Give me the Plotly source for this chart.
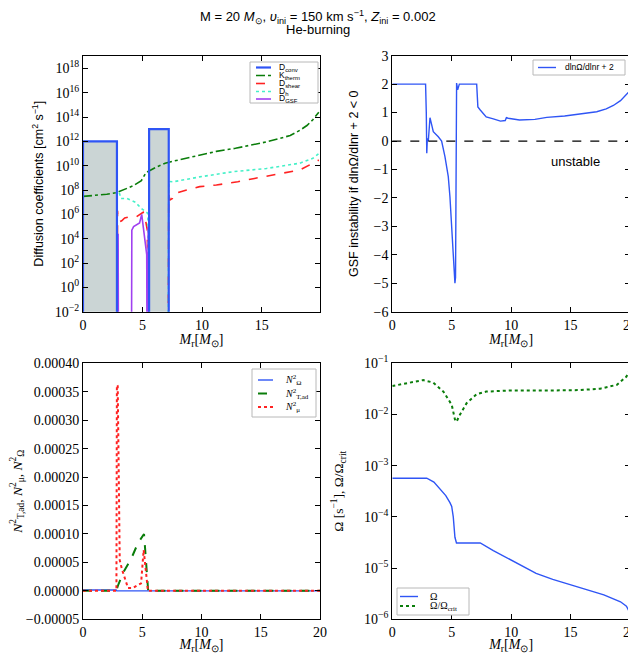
import plotly.graph_objects as go

# ---- top left: diffusion coefficients (values below 1e-2 are off the axis) ----
floor = 1e-6
conv_m = [0, 0, 2.85, 2.85, 5.55, 5.55, 7.2, 7.2]
conv_d = [floor, 1e12, 1e12, floor, floor, 1e13, 1e13, floor]

kth_m = [0, 1, 2, 2.8, 3.3, 4.2, 4.9, 5.3, 6.2, 6.9, 7.7, 8.6, 10, 11.2, 12.8, 15.4, 17.4, 18.2, 18.8, 19.3, 19.8]
kth_d = [3e7, 3.5e7, 4.5e7, 6e7, 1e8, 2.2e8, 6e8, 2.8e9, 8e9, 1.6e10, 2.5e10, 4e10, 8e10, 1.5e11,
         2.7e11, 9e11, 3e12, 8e12, 2e13, 6e13, 2.5e14]

shear_m = [2.88, 2.9, 2.95, 3.1, 3.25, 3.5, 3.8, 4.45, 4.9, 5.05, 5.2, 5.3, 5.4, 5.45,
           7.15, 7.2, 7.3, 7.5, 7.6, 8.7, 9.8, 11.2, 13.0, 14.4, 16.0, 17.1, 18.2, 19.3, 19.8]
shear_d = [floor, 2e6, 3e5, 2.5e5, 3e5, 5e5, 6e5, 6e5, 1.2e6, 1.5e6, 6e5, 1e5, 5e4, floor,
           floor, 4e7, 1.5e7, 2e7, 4.7e7, 1e8, 1.9e8, 2.6e8, 4.8e8, 9e8, 1.7e9, 2.6e9, 4.4e9, 1.6e10, 2.9e10]

dh_m = [2.85, 2.87, 3.0, 3.2, 3.7, 4.4, 4.9, 5.3, 5.45, 5.5,
        7.15, 7.2, 7.6, 9.8, 12.6, 15.4, 18.2, 19.3, 19.8]
dh_d = [floor, 1e8, 8e7, 2e7, 2e7, 1e7, 3e6, 1.5e6, 1.2e6, floor,
        floor, 5e8, 4.8e8, 1.2e9, 3.2e9, 5.9e9, 1.6e10, 4e10, 1e11]

gsf_m = [2.93, 2.95, 2.98, 4.07, 4.1, 4.25, 4.5, 4.75, 4.93, 5.0, 5.2, 5.35, 5.38, 5.45, 5.47, 5.5]
gsf_d = [floor, 2.5e4, floor, floor, 5e4, 1e5, 1.5e5, 2e5, 1e6, 2.5e5, 1.5e4, 5e2, floor, floor, 1e5, floor]

dc_exp = [-2, 0, 2, 4, 6, 8, 10, 12, 14, 16, 18]

# ---- top right: dlnOmega/dlnr + 2 ----
gsf_x = [0, 2.8, 2.86, 2.9, 2.95, 3.03, 3.17, 3.31, 3.45, 3.87, 4.15, 4.43, 4.71, 4.85, 4.99,
         5.08, 5.2, 5.27, 5.32, 5.41, 5.5, 5.64, 7.1, 7.2, 7.4, 7.9, 8.5, 9.1, 9.5, 9.6, 9.75,
         10.7, 12, 13, 14.5, 15.8, 17.2, 18.0, 18.6, 19.2, 19.7, 19.95]
gsf_y = [2, 2, 1.0, -0.43, 0.1, 0.0, 0.82, 0.56, 0.33, 0.15, 0.0, -0.55, -1.25, -1.96, -2.9,
         -3.71, -4.53, -5.0, -4.8, 2.04, 1.8, 2.0, 2.0, 1.2, 1.09, 0.85, 0.78, 0.70, 0.72, 0.82, 0.80,
         0.74, 0.76, 0.83, 0.88, 0.95, 1.03, 1.13, 1.25, 1.42, 1.62, 1.75]

# ---- bottom left: Brunt-Vaisala frequencies ----
nom_m = [0, 2.8, 2.85, 20]
nom_v = [1.5e-6, 1.5e-6, 0, 0]
ntad_m = [0, 2.8, 3.0, 3.39, 4.08, 4.64, 5.15, 5.2, 5.35, 5.5, 20]
ntad_v = [0, 0, 1.2e-5, 3.2e-5, 5.7e-5, 8.4e-5, 1.0e-4, 8.7e-5, 3.7e-5, 0, 0]
nmu_m = [0, 2.82, 2.86, 2.93, 3.1, 3.3, 3.8, 4.2, 4.6, 4.9, 5.12, 5.22, 5.35, 5.48, 20]
nmu_v = [0, 0, 3.62e-4, 3.6e-4, 5.4e-5, 3.7e-5, 5e-6, 5e-6, 1e-5, 1.3e-5, 7.2e-5, 4.9e-5, 2.5e-5, 0, 0]

# ---- bottom right: Omega and Omega/Omega_crit ----
om_m = [0, 2.9, 3.5, 4.0, 4.5, 4.85, 5.0, 5.13, 5.2, 5.27, 5.4, 7.4, 8.5, 10, 12.1, 13.5, 15,
        16.4, 17.8, 19.2, 19.7, 19.95]
om_v = [5.7e-4, 5.7e-4, 4.8e-4, 3.5e-4, 2.6e-4, 1.9e-4, 1.6e-4, 1e-4, 6e-5, 4e-5, 3.1e-5, 3.1e-5,
        2.2e-5, 1.44e-5, 7.9e-6, 6e-6, 4.7e-6, 3.7e-6, 3e-6, 2.2e-6, 1.8e-6, 1.4e-6]
rat_m = [0, 1.3, 2.6, 3.45, 4.3, 5.0, 5.27, 5.4, 5.7, 6.25, 7.1, 7.9, 10, 13.5, 15.8, 17.5, 18.9, 19.7, 20]
rat_v = [0.036, 0.041, 0.047, 0.042, 0.028, 0.0155, 0.008, 0.0072, 0.010, 0.0166, 0.025, 0.028,
         0.0295, 0.0295, 0.030, 0.032, 0.038, 0.055, 0.074]
om_exp = [-6, -5, -4, -3, -2, -1]

BLUE = "#2f55f5"
GREEN = "#0a7d0a"
RED = "#ff2222"
CYAN = "#45f0c8"
PURPLE = "#a040f0"

# the page body has an 8px margin, so the figure is a bit smaller than the window
OFF = 8
W, H = 636 - OFF, 654 - OFF


def px(x):
    return (x - OFF) / W


def py(y):
    return 1 - (y - OFF) / H


def line(x, y, name, color, width, dash, xa, ya):
    return go.Scatter(x=x, y=y, name=name, mode="lines", showlegend=False,
                      line=dict(color=color, width=width, dash=dash), xaxis=xa, yaxis=ya)


fig = go.Figure()

# top left
fig.add_trace(go.Scatter(x=conv_m, y=conv_d, fill="toself", fillcolor="#cbd5d5", mode="none",
                         showlegend=False, hoverinfo="skip", xaxis="x", yaxis="y"))
t_kth = line(kth_m, kth_d, "K<sub>therm</sub>", GREEN, 1.6, "dashdot", "x", "y")
t_shear = line(shear_m, shear_d, "D<sub>shear</sub>", RED, 1.6, "dash", "x", "y")
t_dh = line(dh_m, dh_d, "D<sub>h</sub>", CYAN, 1.6, "dot", "x", "y")
t_gsf = line(gsf_m, gsf_d, "D<sub>GSF</sub>", PURPLE, 1.6, "solid", "x", "y")
t_conv = line(conv_m, conv_d, "D<sub>conv</sub>", BLUE, 2.2, "solid", "x", "y")

# top right
t_grad = line(gsf_x, gsf_y, "dlnΩ/dlnr + 2", BLUE, 1.4, "solid", "x2", "y2")

# bottom left
t_nom = line(nom_m, nom_v, "<i>N</i><sup>2</sup><sub>Ω</sub>", BLUE, 1.4, "solid", "x3", "y3")
t_ntad = line(ntad_m, ntad_v, "<i>N</i><sup>2</sup><sub>T,ad</sub>", GREEN, 2, "dash", "x3", "y3")
t_nmu = line(nmu_m, nmu_v, "<i>N</i><sup>2</sup><sub>μ</sub>", RED, 2, "dot", "x3", "y3")

# bottom right
t_om = line(om_m, om_v, "Ω", BLUE, 1.4, "solid", "x4", "y4")
t_rat = line(rat_m, rat_v, "Ω/Ω<sub>crit</sub>", GREEN, 2, "dot", "x4", "y4")

for t in [t_kth, t_shear, t_dh, t_gsf, t_conv, t_grad, t_nom, t_ntad, t_nmu, t_om, t_rat]:
    fig.add_trace(t)

fig.add_hline(y=0, line=dict(color="black", width=1.2, dash="dash"), xref="x2", yref="y2")
fig.add_annotation(x=15.4, y=-0.72, xref="x2", yref="y2", text="unstable", showarrow=False,
                   font=dict(family="Liberation Sans", size=13, color="black"))


def add_legend(traces, box, sample, text_x, rows, font):
    # compact matplotlib-like legend box drawn in page pixels
    fig.add_shape(type="rect", xref="paper", yref="paper", x0=px(box[0]), x1=px(box[2]),
                  y0=py(box[3]), y1=py(box[1]), fillcolor="white", line=dict(color="#b8b8b8", width=1))
    for t, yy in zip(traces, rows):
        fig.add_shape(type="line", xref="paper", yref="paper", x0=px(sample[0]), x1=px(sample[1]),
                      y0=py(yy), y1=py(yy), line=dict(color=t.line.color, width=t.line.width, dash=t.line.dash))
        fig.add_annotation(x=px(text_x), y=py(yy), xref="paper", yref="paper", text=t.name,
                           xanchor="left", yanchor="middle", showarrow=False, font=font)


leg_sans = dict(family="Liberation Sans", size=8.5, color="black")
leg_serif = dict(family="Liberation Serif", size=10, color="black")
add_legend([t_conv, t_kth, t_shear, t_dh, t_gsf], (250, 62, 318, 103), (256, 271), 277,
           [67.5, 75.5, 83.5, 91.5, 99], leg_sans)
add_legend([t_grad], (533, 60, 625, 75), (538, 556), 563, [67.5], leg_sans)
add_legend([t_nom, t_ntad, t_nmu], (252, 369, 316, 417), (258, 273), 283, [380, 393.5, 407], leg_serif)
add_legend([t_om, t_rat], (397, 588, 469, 615), (400, 418), 428, [596.5, 606], leg_serif)

title_font = dict(family="Liberation Sans", size=13, color="black")
fig.add_annotation(x=px(318), y=py(16.5), xref="paper", yref="paper", showarrow=False, font=title_font,
                   yanchor="middle",
                   text="M = 20 <i>M</i><sub>⊙</sub>, <i>υ</i><sub>ini</sub> = 150 km s<sup>−1</sup>, "
                        "<i>Z</i><sub>ini</sub> = 0.002")
fig.add_annotation(x=px(318), y=py(29), xref="paper", yref="paper", showarrow=False, font=title_font,
                   yanchor="middle", text="He-burning")

tick_font = dict(family="Liberation Serif", size=14, color="black")
mr_title = dict(text="<i>M</i><sub>r</sub>[<i>M</i><sub>⊙</sub>]",
                font=dict(family="Liberation Serif", size=14, color="black"), standoff=0)
axis_common = dict(showline=True, linecolor="black", linewidth=1, mirror="ticks", ticks="inside",
                   ticklen=5, tickcolor="black", showgrid=False, zeroline=False, tickfont=tick_font,
                   automargin=False, ticklabeloverflow="allow")

xl = [px(83), px(320)]
xr = [px(392.3), px(630)]
yt = [py(311.7), py(55.7)]
yb = [py(619.3), py(363.3)]

sans_title = dict(family="Liberation Sans", size=12.5, color="black")
serif_title = dict(family="Liberation Serif", size=13.5, color="black")

fig.update_layout(
    template="none",
    width=W, height=H,
    margin=dict(l=0, r=0, t=0, b=0, autoexpand=False),
    paper_bgcolor="white", plot_bgcolor="white",
    showlegend=False,
    xaxis=dict(domain=xl, anchor="y", range=[0, 19.9], dtick=5, title=mr_title, **axis_common),
    yaxis=dict(domain=yt, anchor="x", type="log", range=[-2, 19.04],
               tickvals=[10.0 ** e for e in dc_exp],
               ticktext=["10<sup>%s</sup>" % str(e).replace("-", "−") for e in dc_exp],
               title=dict(text="Diffusion coefficients [cm<sup>2</sup> s<sup>−1</sup>]", font=sans_title,
                          standoff=8), **axis_common),
    xaxis2=dict(domain=xr, anchor="y2", range=[0, 20], dtick=5, title=mr_title, **axis_common),
    yaxis2=dict(domain=yt, anchor="x2", range=[-6, 3], dtick=1,
                title=dict(text="GSF instability if dlnΩ/dlnr + 2 < 0", font=sans_title, standoff=12),
                **axis_common),
    xaxis3=dict(domain=xl, anchor="y3", range=[0, 20], dtick=5, title=mr_title, **axis_common),
    yaxis3=dict(domain=yb, anchor="x3", range=[-0.00005, 0.0004], dtick=0.00005, tickformat=".5f",
                title=dict(text="<i>N</i><sup>2</sup><sub>T,ad</sub>, <i>N</i><sup>2</sup><sub>μ</sub>, "
                                "<i>N</i><sup>2</sup><sub>Ω</sub>", font=serif_title, standoff=5),
                **axis_common),
    xaxis4=dict(domain=xr, anchor="y4", range=[0, 20], dtick=5, title=mr_title, **axis_common),
    yaxis4=dict(domain=yb, anchor="x4", type="log", range=[-6, -1],
                tickvals=[10.0 ** e for e in om_exp],
                ticktext=["10<sup>%s</sup>" % str(e).replace("-", "−") for e in om_exp],
                title=dict(text="Ω [s<sup>−1</sup>], Ω/Ω<sub>crit</sub>", font=serif_title, standoff=17),
                **axis_common),
)

fig.write_html("out.html")
